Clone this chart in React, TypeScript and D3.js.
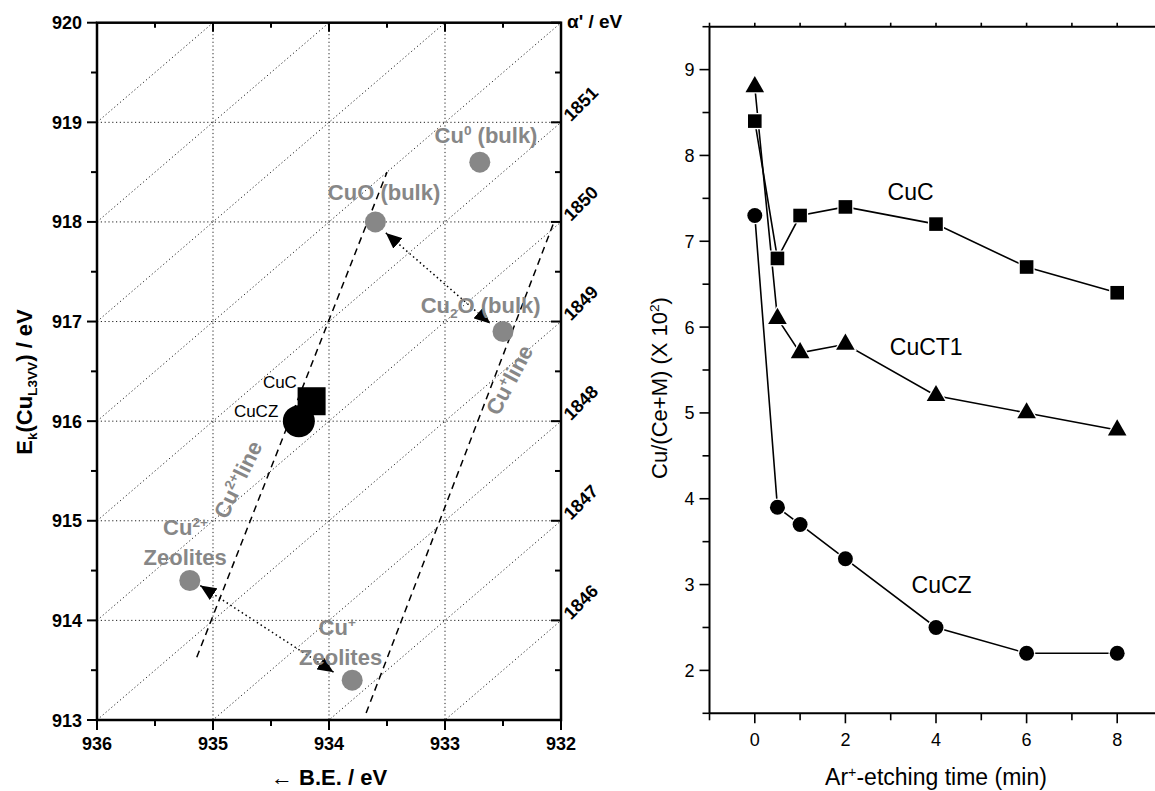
import React from "react";
import * as d3 from "d3";

// ---------- Left panel data (Wagner plot) ----------
const beTicks = [936, 935, 934, 933, 932];
const ekTicks = [913, 914, 915, 916, 917, 918, 919, 920];
const alphaTickValues = [1846, 1847, 1848, 1849, 1850, 1851];
const alphaGridValues = [1846, 1847, 1848, 1849, 1850, 1851, 1852, 1853, 1854, 1855];

const refNames = ["Cu0 (bulk)", "CuO (bulk)", "Cu2O (bulk)", "Cu2+ Zeolites", "Cu+ Zeolites"];
const refBE = [932.7, 933.6, 932.5, 935.2, 933.8];
const refEk = [918.6, 918.0, 916.9, 914.4, 913.4];

const sampleNames = ["CuC", "CuCZ"];
const sampleBE = [934.15, 934.26];
const sampleEk = [916.2, 916.0];

const cu2LineBE = [935.14, 933.5];
const cu2LineEk = [913.63, 918.5];
const cu1LineBE = [933.68, 932.06];
const cu1LineEk = [913.07, 918.0];

const arrowUpperBE = [933.51, 932.61];
const arrowUpperEk = [917.89, 916.98];
const arrowLowerBE = [935.11, 933.96];
const arrowLowerEk = [914.35, 913.48];

// ---------- Right panel data ----------
const etchTime = [0, 0.5, 1, 2, 4, 6, 8];
const cuC = [8.4, 6.8, 7.3, 7.4, 7.2, 6.7, 6.4];
const cuCT1 = [8.8, 6.1, 5.7, 5.8, 5.2, 5.0, 4.8];
const cuCZ = [7.3, 3.9, 3.7, 3.3, 2.5, 2.2, 2.2];
const timeTickLabels = [0, 2, 4, 6, 8];
const ratioTickLabels = [2, 3, 4, 5, 6, 7, 8, 9];

const FONT = "Arial, 'Liberation Sans', Helvetica, sans-serif";
const GRAY = "#878787";

export default function App() {
  // Left scales
  const xL = d3.scaleLinear().domain([936, 932]).range([97, 561]);
  const yL = d3.scaleLinear().domain([913, 920]).range([720, 22.7]);
  // Right scales
  const xR = d3.scaleLinear().domain([-1, 9]).range([709.5, 1162.5]);
  const yR = d3.scaleLinear().domain([1.5, 9.5]).range([713.3, 26.7]);

  const L = { x0: xL(936), x1: xL(932), y0: yL(920), y1: yL(913) };
  const R = { x0: xR(-1), x1: xR(9), y0: yR(9.5), y1: yR(1.5) };

  const beMinor = d3.range(936, 931.9, -0.5);
  const ekMinor = d3.range(913, 920.01, 0.5);
  const tMinor = d3.range(-1, 9.01, 1);
  const rMinor = d3.range(1.5, 9.51, 0.5);

  const gridStyle = { stroke: "#222", strokeWidth: 1, strokeDasharray: "1.2,2.6", fill: "none" };

  const lineGen = d3
    .line<number>()
    .x((_, i) => xR(etchTime[i]))
    .y((d) => yR(d));

  const sq = d3.symbol().type(d3.symbolSquare).size(185)();
  const tri = d3.symbol().type(d3.symbolTriangle).size(150)();
  const circ = d3.symbol().type(d3.symbolCircle).size(175)();

  const series = [
    { vals: cuC, path: sq },
    { vals: cuCT1, path: tri },
    { vals: cuCZ, path: circ },
  ];

  const sup = (s: string, shift = 8) => (
    <tspan baselineShift={shift} fontSize="0.62em">
      {s}
    </tspan>
  );
  const sub = (s: string, shift = 5) => (
    <tspan baselineShift={-shift} fontSize="0.62em">
      {s}
    </tspan>
  );

  return (
    <svg
      width={1155}
      height={791}
      style={{ position: "absolute", left: 0, top: 0, background: "#fff" }}
      fontFamily={FONT}
    >
      <defs>
        <clipPath id="clipL">
          <rect x={L.x0} y={L.y0} width={L.x1 - L.x0} height={L.y1 - L.y0} />
        </clipPath>
        <marker
          id="arrowHead"
          viewBox="0 0 16 14"
          refX={16}
          refY={7}
          markerWidth={16}
          markerHeight={14}
          markerUnits="userSpaceOnUse"
          orient="auto-start-reverse"
        >
          <path d="M0,0 L16,7 L0,14 Z" fill="#000" />
        </marker>
      </defs>

      {/* ================= LEFT PANEL ================= */}
      <g clipPath="url(#clipL)">
        {beTicks.slice(1, -1).map((b) => (
          <line key={"gv" + b} x1={xL(b)} x2={xL(b)} y1={L.y0} y2={L.y1} style={gridStyle} />
        ))}
        {ekTicks.slice(1, -1).map((e) => (
          <line key={"gh" + e} x1={L.x0} x2={L.x1} y1={yL(e)} y2={yL(e)} style={gridStyle} />
        ))}
        {alphaGridValues.map((a) => (
          <line
            key={"ga" + a}
            x1={xL(936)}
            y1={yL(a - 936)}
            x2={xL(932)}
            y2={yL(a - 932)}
            style={gridStyle}
          />
        ))}
        {/* Wagner lines */}
        <line
          x1={xL(cu2LineBE[0])}
          y1={yL(cu2LineEk[0])}
          x2={xL(cu2LineBE[1])}
          y2={yL(cu2LineEk[1])}
          stroke="#000"
          strokeWidth={1.5}
          strokeDasharray="7,5"
        />
        <line
          x1={xL(cu1LineBE[0])}
          y1={yL(cu1LineEk[0])}
          x2={xL(cu1LineBE[1])}
          y2={yL(cu1LineEk[1])}
          stroke="#000"
          strokeWidth={1.5}
          strokeDasharray="7,5"
        />
        {/* dotted arrows */}
        <line
          x1={xL(arrowUpperBE[0])}
          y1={yL(arrowUpperEk[0])}
          x2={xL(arrowUpperBE[1])}
          y2={yL(arrowUpperEk[1])}
          stroke="#000"
          strokeWidth={1.5}
          strokeDasharray="1.5,3"
          markerStart="url(#arrowHead)"
          markerEnd="url(#arrowHead)"
        />
        <line
          x1={xL(arrowLowerBE[0])}
          y1={yL(arrowLowerEk[0])}
          x2={xL(arrowLowerBE[1])}
          y2={yL(arrowLowerEk[1])}
          stroke="#000"
          strokeWidth={1.5}
          strokeDasharray="1.5,3"
          markerStart="url(#arrowHead)"
          markerEnd="url(#arrowHead)"
        />
        {/* reference points */}
        {refNames.map((n, i) => (
          <circle key={n} cx={xL(refBE[i])} cy={yL(refEk[i])} r={10.5} fill={GRAY} />
        ))}
        {/* samples */}
        <rect
          x={xL(sampleBE[0]) - 14}
          y={yL(sampleEk[0]) - 14}
          width={28}
          height={28}
          fill="#000"
        />
        <circle cx={xL(sampleBE[1])} cy={yL(sampleEk[1])} r={16} fill="#000" />
      </g>

      {/* left panel annotation labels */}
      <g fontWeight="bold" fontSize={22} fill={GRAY}>
        <text x={xL(933.09)} y={yL(918.79)}>
          Cu{sup("0")} (bulk)
        </text>
        <text x={xL(934.01)} y={yL(918.22)}>
          CuO (bulk)
        </text>
        <text x={xL(933.21)} y={yL(917.09)}>
          Cu{sub("2")}O (bulk)
        </text>
        <text x={xL(935.43)} y={yL(914.86)}>
          Cu{sup("2+")}
        </text>
        <text x={xL(935.24)} y={yL(914.56)} textAnchor="middle">
          Zeolites
        </text>
        <text x={xL(934.09)} y={yL(913.85)}>
          Cu{sup("+")}
        </text>
        <text x={xL(933.9)} y={yL(913.55)} textAnchor="middle">
          Zeolites
        </text>
        <text
          x={xL(934.78)}
          y={yL(915.41) + 7}
          textAnchor="middle"
          transform={`rotate(-64, ${xL(934.78)}, ${yL(915.41)})`}
        >
          Cu{sup("2+")}line
        </text>
        <text
          x={xL(932.44)}
          y={yL(916.41) + 7}
          textAnchor="middle"
          transform={`rotate(-62, ${xL(932.44)}, ${yL(916.41)})`}
        >
          Cu{sup("+")}line
        </text>
      </g>
      <g fontSize={17} fill="#000">
        <text x={xL(934.57)} y={yL(916.33)}>
          {sampleNames[0]}
        </text>
        <text x={xL(934.82)} y={yL(916.04)}>
          {sampleNames[1]}
        </text>
      </g>

      {/* left frame */}
      <rect
        x={L.x0}
        y={L.y0}
        width={L.x1 - L.x0}
        height={L.y1 - L.y0}
        fill="none"
        stroke="#000"
        strokeWidth={2.5}
      />
      {/* left ticks */}
      <g stroke="#000" strokeWidth={2}>
        {beMinor.map((b, i) => {
          const major = Math.abs(b - Math.round(b)) < 1e-6;
          return (
            <g key={"bt" + i}>
              <line x1={xL(b)} x2={xL(b)} y1={L.y1} y2={L.y1 + (major ? 10 : 6)} />
              <line x1={xL(b)} x2={xL(b)} y1={L.y0} y2={L.y0 + (major ? 9 : 5)} />
            </g>
          );
        })}
        {ekMinor.map((e, i) => {
          const major = Math.abs(e - Math.round(e)) < 1e-6;
          return (
            <g key={"et" + i}>
              <line x1={L.x0 - (major ? 10 : 6)} x2={L.x0} y1={yL(e)} y2={yL(e)} />
              <line x1={L.x1 - (major ? 10 : 6)} x2={L.x1} y1={yL(e)} y2={yL(e)} />
            </g>
          );
        })}
      </g>
      <g fontWeight="bold" fontSize={18} fill="#000">
        {beTicks.map((b) => (
          <text key={"bl" + b} x={xL(b)} y={750} textAnchor="middle">
            {b}
          </text>
        ))}
        {ekTicks.map((e) => (
          <text key={"el" + e} x={L.x0 - 15} y={yL(e) + 6.5} textAnchor="end">
            {e}
          </text>
        ))}
      </g>
      <g fontWeight="bold" fontSize={18} fill="#000">
        {alphaTickValues.map((a) => {
          const yy = yL(a - 932);
          return (
            <text key={"al" + a} x={571} y={yy} transform={`rotate(-45, 571, ${yy})`}>
              {a}
            </text>
          );
        })}
      </g>
      <text x={567} y={28} fontWeight="bold" fontSize={19}>
        α' / eV
      </text>
      <text x={(L.x0 + L.x1) / 2} y={785} fontWeight="bold" fontSize={22} textAnchor="middle">
        <tspan fontWeight="normal">←</tspan> B.E. / eV
      </text>
      <text
        x={32}
        y={382}
        fontWeight="bold"
        fontSize={22}
        textAnchor="middle"
        transform="rotate(-90, 32, 382)"
      >
        E{sub("k")}(Cu{sub("L3VV")}) / eV
      </text>

      {/* ================= RIGHT PANEL ================= */}
      <g>
        {series.map((s, si) => (
          <path key={"ln" + si} d={lineGen(s.vals) || ""} fill="none" stroke="#000" strokeWidth={1.6} />
        ))}
        {series.map((s, si) =>
          s.vals.map((v, i) => (
            <path
              key={"mk" + si + "-" + i}
              d={s.path || ""}
              transform={`translate(${xR(etchTime[i])},${yR(v)})`}
              fill="#000"
              stroke="#fff"
              strokeWidth={2.5}
              style={{ paintOrder: "stroke" }}
            />
          ))
        )}
      </g>
      <g fontSize={23} fill="#000">
        <text x={xR(2.93)} y={yR(7.485)}>CuC</text>
        <text x={xR(2.98)} y={yR(5.68)}>CuCT1</text>
        <text x={xR(3.46)} y={yR(2.9)}>CuCZ</text>
      </g>
      {/* right frame */}
      <line x1={R.x0} x2={R.x0} y1={R.y0} y2={R.y1} stroke="#000" strokeWidth={2} />
      <line x1={R.x0} x2={R.x1} y1={R.y1} y2={R.y1} stroke="#000" strokeWidth={2} />
      <line x1={R.x0} x2={R.x1} y1={R.y0} y2={R.y0} stroke="#000" strokeWidth={2} />
      <line x1={R.x1} x2={R.x1} y1={R.y0} y2={R.y1} stroke="#000" strokeWidth={2} />
      <g stroke="#000" strokeWidth={1.6}>
        {tMinor.map((t) => {
          const major = t % 2 === 0;
          return (
            <g key={"tt" + t}>
              <line x1={xR(t)} x2={xR(t)} y1={R.y1} y2={R.y1 + (major ? 10 : 7)} />
              <line x1={xR(t)} x2={xR(t)} y1={R.y0} y2={R.y0 - 4} />
            </g>
          );
        })}
        {rMinor.map((r, i) => {
          const major = Math.abs(r - Math.round(r)) < 1e-6;
          return <line key={"rt" + i} x1={R.x0 - (major ? 10 : 7)} x2={R.x0} y1={yR(r)} y2={yR(r)} />;
        })}
      </g>
      <g fontSize={18} fill="#000">
        {timeTickLabels.map((t) => (
          <text key={"tl" + t} x={xR(t)} y={746} textAnchor="middle">
            {t}
          </text>
        ))}
        {ratioTickLabels.map((r) => (
          <text key={"rl" + r} x={R.x0 - 15} y={yR(r) + 6.5} textAnchor="end">
            {r}
          </text>
        ))}
      </g>
      <text x={xR(4)} y={785} fontSize={23} textAnchor="middle">
        Ar{sup("+")}-etching time (min)
      </text>
      <text
        x={667}
        y={388}
        fontSize={22}
        textAnchor="middle"
        transform="rotate(-90, 667, 388)"
      >
        Cu/(Ce+M) (X 10{sup("2")})
      </text>
    </svg>
  );
}
